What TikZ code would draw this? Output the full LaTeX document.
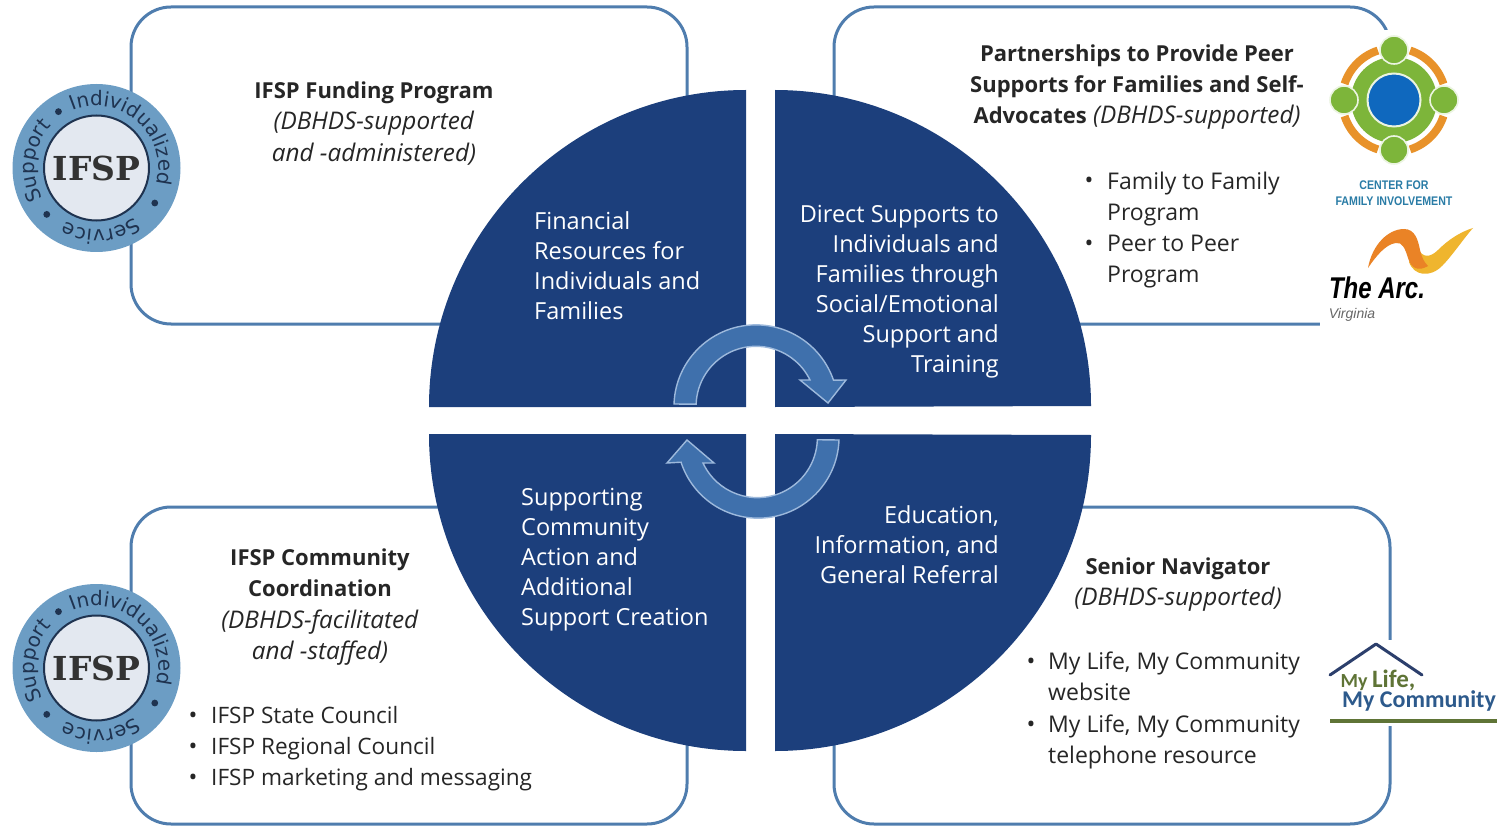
\documentclass[tikz,border=0pt]{standalone}
\usepackage{fontspec}
\setmainfont{Open Sans}
\newfontfamily\badgefont{DejaVu Sans}
\newfontfamily\badgeserif{DejaVu Serif}
\newfontfamily\logofont{Liberation Sans}
\newfontfamily\carlitofont{Carlito}
\usetikzlibrary{decorations.text}
\definecolor{discblue}{HTML}{1C3F7C}
\definecolor{framec}{HTML}{4F7DAE}
\definecolor{arrowfill}{HTML}{3F70AC}
\definecolor{arrowline}{HTML}{9DB9DC}
\definecolor{txt}{HTML}{262626}
\definecolor{badgeblue}{HTML}{6C9DC4}
\definecolor{badgein}{HTML}{E3E8F0}
\definecolor{badgetxt}{HTML}{1F3350}
\definecolor{cfigreen}{HTML}{7DB53A}
\definecolor{cfiorange}{HTML}{E8922A}
\definecolor{cfiblue}{HTML}{0F68BE}
\definecolor{cfitext}{HTML}{2A7CA6}
\definecolor{olive}{HTML}{5F7436}
\definecolor{roofblue}{HTML}{2C3F6C}
\definecolor{mlblue}{HTML}{2D5A8C}
\definecolor{arctail}{HTML}{EFB52E}
\newcommand{\hd}[1]{{\fontsize{22}{31.3}\selectfont\bfseries #1}}
\tikzset{
  framebox/.style={draw=framec,line width=3pt,rounded corners=40pt,minimum width=556pt,minimum height=317pt,fill=white,inner sep=0pt},
  quarter/.style={fill=discblue,draw=none},
  cyclearrow/.style={fill=arrowfill,draw=arrowline,line width=1.4pt,line join=miter},
  disctext/.style={text=white,font=\fontsize{23.5}{30}\selectfont,inner sep=0pt},
  bodytext/.style={text=txt,font=\fontsize{23}{31.3}\selectfont,inner sep=0pt},
  bullet/.style={inner sep=0pt,text=txt,font=\fontsize{23.5}{24}\selectfont},
  logomask/.style={fill=white,draw=none},
}
\newcommand{\ringword}[4]{%
  \path[decorate,decoration={text along path,text={#1},text align=center,text color=badgetxt,
    text format delimiters={|}{|}}]
    ([shift={(#2:62pt)}]#4) arc[start angle=#2,end angle=#3,radius=62pt];}
\newcommand{\ifspbadge}[3]{% centre name, y, label name
  \coordinate (#1) at (96.5,#2);
  \fill[badgeblue] (#1) circle[radius=84pt];
  \draw[fill=badgein,draw=badgetxt,line width=2pt] (#1) circle[radius=52.5pt];
  \node[inner sep=0pt,text=black!80] (#3) at (#1) {\badgeserif\bfseries\fontsize{33}{33}\selectfont IFSP};
  \ringword{|\badgefont\fontsize{20}{20}\selectfont|Individualized}{112}{-14}{#1}
  \ringword{|\badgefont\fontsize{20}{20}\selectfont|Support}{210}{136}{#1}
  \ringword{|\badgefont\fontsize{20}{20}\selectfont|Service}{-50}{-122}{#1}
  \foreach \a in {124,-31,-137}{\fill[badgetxt] ([shift={(\a:68pt)}]#1) circle[radius=3.4pt];}
}
\begin{document}
\begin{tikzpicture}[x=1pt,y=-1pt]
\useasboundingbox (0,0) rectangle (1501,826);
\fill[white] (0,0) rectangle (1501,826);
% frames
\node[framebox] (ftl) at (409,165.5) {};
\node[framebox] (ftr) at (1112,165.5) {};
\node[framebox] (fbl) at (409,665.5) {};
\node[framebox] (fbr) at (1112,665.5) {};
% quarter discs
\path[quarter] (746,407) -- (429,407) arc[start angle=180,end angle=90,radius=317pt] -- cycle;
\path[quarter] (775,407) -- (775,90) arc[start angle=90,end angle=0,radius=316pt] -- cycle;
\path[quarter] (746,434) -- (429,434) arc[start angle=180,end angle=270,radius=317pt] -- cycle;
\path[quarter] (775,434) -- (775,751) arc[start angle=270,end angle=360,radius=316pt] -- cycle;
% cycle arrows
\draw[cyclearrow] (674,404) arc[start angle=178,end angle=19,radius=82pt]
  -- (846,380) -- (828,403) -- (800,380) -- (810,380)
  arc[start angle=26,end angle=178,radius=60pt] -- cycle;
\draw[cyclearrow] (839,440) arc[start angle=-2,end angle=-162,radius=81pt]
  -- (667,463) -- (687,440) -- (714,463) -- (703,463)
  arc[start angle=-155,end angle=-2,radius=60pt] -- cycle;
% disc labels
\node[disctext,anchor=west,align=left] (d1) at (534,265.5) {Financial\\Resources for\\Individuals and\\Families};
\node[disctext,anchor=east,align=right] (d2) at (999,292) {Direct Supports to\\Individuals and\\Families through\\Social/Emotional\\Support and\\Training};
\node[disctext,anchor=west,align=left] (d3) at (521,560) {Supporting\\Community\\Action and\\Additional\\Support Creation};
\node[disctext,anchor=east,align=right] (d4) at (999,544.5) {Education,\\Information, and\\General Referral};
% top left text
\node[bodytext,align=center,font=\fontsize{24.3}{31.3}\selectfont] (t1) at (374,123.5) {\hd{IFSP Funding Program}\\\textit{(DBHDS-supported}\\\textit{and -administered)}};
% top right text
\node[bodytext,align=center,font=\fontsize{24.3}{31.3}\selectfont] (t2) at (1137,87) {\hd{Partnerships to Provide Peer}\\\hd{Supports for Families and Self-}\\\hd{Advocates} \textit{(DBHDS-supported)}};
\node[bodytext,anchor=west,align=left] (t2a) at (1107,230) {Family to Family\\Program\\Peer to Peer\\Program};
\node[bullet] (b1) at (1089,183) {•};
\node[bullet] (b2) at (1089,246) {•};
% bottom left text
\node[bodytext,align=center,font=\fontsize{24.3}{31.3}\selectfont] (t3) at (320,607) {\hd{IFSP Community}\\\hd{Coordination}\\\textit{(DBHDS-facilitated}\\\textit{and -staffed)}};
\node[bodytext,anchor=west,align=left,font=\fontsize{22.6}{31}\selectfont] (t3a) at (211,748.5) {IFSP State Council\\IFSP Regional Council\\IFSP marketing and messaging};
\node[bullet] (b3) at (193,718) {•};
\node[bullet] (b4) at (193,749) {•};
\node[bullet] (b5) at (193,780) {•};
% bottom right text
\node[bodytext,align=center,font=\fontsize{24.3}{31.3}\selectfont] (t4) at (1178,584.5) {\hd{Senior Navigator}\\\textit{(DBHDS-supported)}};
\node[bodytext,anchor=west,align=left] (t4a) at (1048,710.5) {My Life, My Community\\website\\My Life, My Community\\telephone resource};
\node[bullet] (b6) at (1031,664) {•};
\node[bullet] (b7) at (1031,727) {•};
% logo masks
\fill[logomask] (1320,30) rectangle (1501,340);
\fill[logomask] (1328,640) rectangle (1501,726);
% badges
\ifspbadge{ba}{168}{ifspa}
\ifspbadge{bb}{668}{ifspb}
% Center for Family Involvement logo
\coordinate (cfi) at (1394,100);
\foreach \s in {0,90,180,270}{
  \draw[cfiorange,line width=8pt] ([shift={(\s+18:52pt)}]cfi) arc[start angle=\s+18,end angle=\s+72,radius=52pt];
}
\fill[cfigreen] (cfi) circle[radius=43pt];
\foreach \s in {0,90,180,270}{
  \draw[fill=cfigreen,draw=white!85!cfigreen,line width=1.6pt] ([shift={(\s:50pt)}]cfi) circle[radius=14pt];
}
\draw[fill=cfiblue,draw=white!85!cfigreen,line width=2pt] (cfi) circle[radius=26.5pt];
\node[inner sep=0pt,align=center,text=cfitext,font=\logofont\bfseries\fontsize{12.5}{16.5}\selectfont] (cfit) at (1394,193) {\scalebox{0.85}[1]{CENTER FOR}\\\scalebox{0.85}[1]{FAMILY INVOLVEMENT}};
% The Arc logo
\fill[arctail] (1418,248) .. controls (1422,258) and (1430,258) .. (1438,250)
  .. controls (1448,240) and (1460,232) .. (1473,228)
  .. controls (1464,238) and (1452,256) .. (1442,266)
  .. controls (1430,278) and (1414,276) .. (1409,262) -- cycle;
\fill[cfiorange!90!red] (1368,268) .. controls (1372,245) and (1388,229) .. (1404,229)
  .. controls (1415,229) and (1418,240) .. (1420,250)
  .. controls (1422,258) and (1424,262) .. (1428,266)
  .. controls (1418,272) and (1411,268) .. (1408,258)
  .. controls (1405,248) and (1402,242) .. (1396,243)
  .. controls (1386,244) and (1376,256) .. (1368,268) -- cycle;
\node[inner sep=0pt,text=black,font=\logofont\bfseries\itshape\fontsize{30}{30}\selectfont] (arc) at (1377,288) {\scalebox{0.8}[1]{The Arc.}};
\node[inner sep=0pt,text=black!60,font=\logofont\itshape\fontsize{14}{14}\selectfont] (virg) at (1352,315) {Virginia};
% My Life My Community logo
\coordinate (roofl) at (1330,675);
\coordinate (roofp) at (1376,644);
\coordinate (roofr) at (1422,675);
\draw[roofblue,line width=3pt,line cap=round,line join=round] (roofl) -- (roofp) -- (roofr);
\node[inner sep=0pt,text=olive,font=\carlitofont\bfseries] (ml1) at (1378,680) {{\fontsize{20}{20}\selectfont My }{\fontsize{25}{25}\selectfont Life,}};
\node[inner sep=0pt,text=mlblue,font=\carlitofont\bfseries\fontsize{24}{24}\selectfont] (ml2) at (1419,701) {My Community};
\coordinate (mla) at (1330,721);
\coordinate (mlb) at (1497,721);
\draw[olive,line width=4pt] (mla) -- (mlb);
\end{tikzpicture}
\end{document}
